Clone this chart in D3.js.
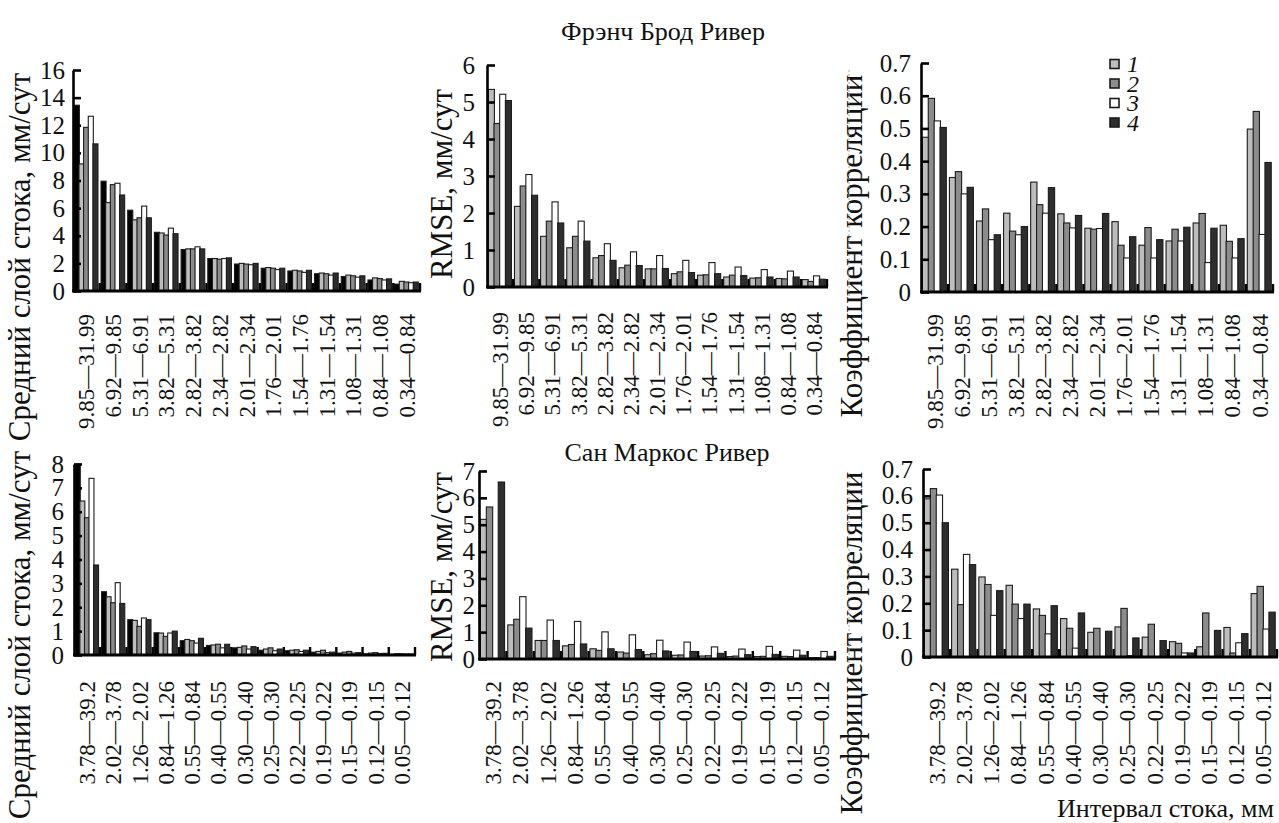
<!DOCTYPE html>
<html>
<head>
<meta charset="utf-8">
<title>Интервал стока</title>
<script src="https://d3js.org/d3.v7.min.js"></script>
<style>
  body { margin: 0; background: #fff; }
  text { font-family: "Liberation Serif", "Times New Roman", serif; fill: #111; }
</style>
</head>
<body>
<div id="chart"></div>
<script>

// flow intervals, mm
const catsFB = ["9.85—31.99", "6.92—9.85", "5.31—6.91", "3.82—5.31", "2.82—3.82", "2.34—2.82",
  "2.01—2.34", "1.76—2.01", "1.54—1.76", "1.31—1.54", "1.08—1.31", "0.84—1.08", "0.34—0.84"];
const catsSM = ["3.78—39.2", "2.02—3.78", "1.26—2.02", "0.84—1.26", "0.55—0.84", "0.40—0.55",
  "0.30—0.40", "0.25—0.30", "0.22—0.25", "0.19—0.22", "0.15—0.19", "0.12—0.15", "0.05—0.12"];

const legendNames = ["1", "2", "3", "4"];

// mean runoff: [observed, 1, 2, 3, 4]
const fbDepth = [
  [13.45, 9.2, 11.85, 12.65, 10.65], [7.95, 6.4, 7.7, 7.8, 6.95], [5.85, 5.15, 5.3, 6.15, 5.3],
  [4.25, 4.2, 4.05, 4.55, 4.15], [3.0, 3.05, 3.05, 3.2, 3.05], [2.35, 2.35, 2.3, 2.35, 2.4],
  [1.95, 2.0, 1.95, 1.9, 2.0], [1.65, 1.7, 1.65, 1.55, 1.65], [1.45, 1.5, 1.45, 1.35, 1.5],
  [1.25, 1.3, 1.25, 1.15, 1.3], [1.05, 1.15, 1.1, 1.0, 1.1], [0.8, 0.95, 0.9, 0.8, 0.88],
  [0.5, 0.7, 0.65, 0.6, 0.65]
];
const smDepth = [
  [8.0, 6.45, 5.75, 7.4, 3.77], [2.65, 2.44, 2.19, 3.03, 2.16], [1.48, 1.45, 1.2, 1.55, 1.48],
  [0.93, 0.92, 0.78, 0.92, 1.0], [0.6, 0.65, 0.6, 0.5, 0.7], [0.4, 0.42, 0.45, 0.3, 0.45],
  [0.3, 0.32, 0.38, 0.25, 0.35], [0.2, 0.25, 0.3, 0.18, 0.25], [0.18, 0.2, 0.22, 0.15, 0.2],
  [0.12, 0.15, 0.2, 0.1, 0.12], [0.08, 0.12, 0.15, 0.08, 0.1], [0.05, 0.08, 0.1, 0.06, 0.07],
  [0.03, 0.05, 0.05, 0.04, 0.04]
];

// RMSE, mm/day: [1, 2, 3, 4]
const fbRmse = [
  [5.34, 4.42, 5.21, 5.04], [2.18, 2.73, 3.04, 2.48], [1.37, 1.78, 2.3, 1.73], [1.06, 1.37, 1.78, 1.24],
  [0.79, 0.85, 1.17, 0.72], [0.52, 0.59, 0.95, 0.58], [0.49, 0.49, 0.85, 0.5], [0.36, 0.41, 0.72, 0.39],
  [0.32, 0.33, 0.66, 0.36], [0.27, 0.32, 0.54, 0.31], [0.24, 0.25, 0.47, 0.27], [0.23, 0.22, 0.43, 0.27],
  [0.2, 0.15, 0.3, 0.21]
];
const smRmse = [
  [5.2, 5.66, 0, 6.59], [1.27, 1.48, 2.32, 1.15], [0.69, 0.69, 1.45, 0.69], [0.49, 0.54, 1.4, 0.56],
  [0.38, 0.32, 1.01, 0.38], [0.26, 0.22, 0.9, 0.35], [0.16, 0.2, 0.7, 0.3], [0.14, 0.15, 0.63, 0.28],
  [0.11, 0.12, 0.45, 0.21], [0.09, 0.11, 0.37, 0.16], [0.09, 0.1, 0.47, 0.17], [0.1, 0.09, 0.33, 0.14],
  [0.05, 0.05, 0.28, 0.1]
];

// correlation coefficient: [1, 2, 3, 4]
const fbCorr = [
  [0.473, 0.592, 0.523, 0.503], [0.35, 0.368, 0.3, 0.32], [0.217, 0.254, 0.16, 0.175], [0.241, 0.186, 0.175, 0.2],
  [0.336, 0.267, 0.241, 0.319], [0.239, 0.211, 0.196, 0.234], [0.195, 0.192, 0.194, 0.24], [0.215, 0.143, 0.104, 0.169],
  [0.143, 0.197, 0.104, 0.16], [0.156, 0.192, 0.156, 0.198], [0.211, 0.24, 0.09, 0.195], [0.204, 0.155, 0.104, 0.163],
  [0.498, 0.552, 0.176, 0.396]
];
const smCorr = [
  [0.589, 0.627, 0.603, 0.5], [0.327, 0.195, 0.382, 0.344], [0.298, 0.27, 0.155, 0.247], [0.267, 0.197, 0.143, 0.197],
  [0.179, 0.155, 0.086, 0.191], [0.143, 0.107, 0.033, 0.164], [0.092, 0.107, 0, 0.096], [0.112, 0.181, 0.005, 0.071],
  [0.074, 0.122, 0, 0.061], [0.057, 0.051, 0.015, 0.015], [0.038, 0.164, 0, 0.099], [0.11, 0.015, 0.053, 0.087],
  [0.236, 0.263, 0.104, 0.167]
];

const W = 1279, H = 823;
const obsFill = "#000";
const fills = ["#bdbdbd", "#8c8c8c", "#ffffff", "#2e2e2e"];

let svg = d3.select("#chart").append("svg")
  .attr("width", W).attr("height", H);

function panel(p) {
  let g = svg.append("g");
  let n = p.data[0].length;
  let colors = n == 5 ? [obsFill].concat(fills) : fills;

  let x = d3.scaleBand().domain(d3.range(p.cats.length)).range([p.x0, p.x1]);
  let bw = x.bandwidth();
  let xs = d3.scaleBand().domain(d3.range(n)).range([bw * 0.05, bw * 0.92]);
  let y = d3.scaleLinear().domain([0, p.max]).range([p.yb, p.yt]);

  // bars
  p.data.forEach(function(row, i) {
    g.selectAll(null)
      .data(row)
      .enter()
      .append("rect")
      .attr("x", (d, j) => x(i) + xs(j))
      .attr("y", d => y(d))
      .attr("width", xs.bandwidth() + 0.4)
      .attr("height", d => p.yb - y(d))
      .attr("fill", (d, j) => colors[j])
      .attr("stroke", "#1b1b1b")
      .attr("stroke-width", 1.1)
      .style("display", d => d > 0 ? null : "none");
  });

  // y axis
  let yAxis = d3.axisLeft(y)
    .tickValues(d3.range(0, p.max + p.step / 2, p.step))
    .tickFormat(p.fmt)
    .tickSize(-8)
    .tickSizeOuter(0)
    .tickPadding(p.gap);
  let ya = g.append("g").attr("transform", "translate(" + p.x0 + ",0)").call(yAxis);
  ya.select(".domain").attr("stroke", "#000").attr("stroke-width", 2.6);
  ya.selectAll(".tick line").attr("stroke", "#000").attr("stroke-width", 2.6);
  ya.selectAll("text").attr("font-size", 25).attr("font-family", "Liberation Serif").attr("fill", "#111");

  // x axis with rotated interval labels
  let xAxis = d3.axisBottom(x).tickSize(0).tickPadding(0).tickFormat(i => p.cats[i]);
  let xa = g.append("g").attr("transform", "translate(0," + p.yb + ")").call(xAxis);
  xa.select(".domain").remove();
  xa.selectAll("text")
    .attr("transform", "rotate(-90)")
    .attr("text-anchor", "end")
    .attr("x", -p.lab)
    .attr("y", 0)
    .attr("dy", "0.35em")
    .attr("font-size", 23)
    .attr("font-family", "Liberation Serif")
    .attr("fill", "#111");

  g.append("line")
    .attr("x1", p.x0 - 1).attr("x2", p.x1 + 1)
    .attr("y1", p.yb).attr("y2", p.yb)
    .attr("stroke", "#000").attr("stroke-width", 3);
  g.selectAll(null)
    .data(d3.range(p.cats.length))
    .enter()
    .append("line")
    .attr("x1", i => x(i) + bw).attr("x2", i => x(i) + bw)
    .attr("y1", p.yb).attr("y2", p.yb - 8)
    .attr("stroke", "#000").attr("stroke-width", 2.4);

  // y title
  g.append("text")
    .attr("transform", "translate(" + p.tx + "," + p.ty + ") rotate(-90)")
    .attr("text-anchor", "middle")
    .attr("font-size", 31)
    .text(p.title);
}

const fmtInt = d3.format("d");
const fmtCorr = d => d == 0 ? "0" : d3.format(".1f")(d);

panel({data: fbDepth, cats: catsFB, x0: 73, x1: 420, yb: 291, yt: 70, max: 16, step: 2, fmt: fmtInt, gap: 8, lab: 23,
  title: "Средний слой стока, мм/сут", tx: 30, ty: 257});
panel({data: fbRmse, cats: catsFB, x0: 487, x1: 827, yb: 287, yt: 65, max: 6, step: 1, fmt: fmtInt, gap: 12, lab: 25,
  title: "RMSE, мм/сут", tx: 452, ty: 184});
panel({data: fbCorr, cats: catsFB, x0: 921, x1: 1273, yb: 292, yt: 63, max: 0.7, step: 0.1, fmt: fmtCorr, gap: 10, lab: 22,
  title: "Коэффициент корреляции", tx: 862, ty: 246});
panel({data: smDepth, cats: catsSM, x0: 74, x1: 415, yb: 655, yt: 464, max: 8, step: 1, fmt: fmtInt, gap: 10, lab: 26,
  title: "Средний слой стока, мм/сут", tx: 30, ty: 635});
panel({data: smRmse, cats: catsSM, x0: 479, x1: 835, yb: 659, yt: 471, max: 7, step: 1, fmt: fmtInt, gap: 4, lab: 22,
  title: "RMSE, мм/сут", tx: 452, ty: 567});
panel({data: smCorr, cats: catsSM, x0: 923, x1: 1277, yb: 657, yt: 469, max: 0.7, step: 0.1, fmt: fmtCorr, gap: 10, lab: 24,
  title: "Коэффициент корреляции", tx: 862, ty: 643});

// faint dashed frame remnants
[[70, 297], [473, 667]].forEach(function(r) {
  svg.append("line")
    .attr("x1", 849).attr("x2", 849).attr("y1", r[0]).attr("y2", r[1])
    .attr("stroke", "#aaa").attr("stroke-width", 1).attr("stroke-dasharray", "2,2");
});

// legend
let leg = svg.append("g").attr("transform", "translate(1110,64)");
legendNames.forEach(function(name, i) {
  leg.append("rect")
    .attr("x", 0).attr("y", i * 19.5 - 4.5)
    .attr("width", 9).attr("height", 9)
    .attr("fill", fills[i]).attr("stroke", "#1b1b1b").attr("stroke-width", 1.6);
  leg.append("text")
    .attr("x", 17).attr("y", i * 19.5 + 8)
    .attr("font-size", 24).attr("font-style", "italic")
    .text(name);
});

// titles
svg.append("text").attr("x", 663).attr("y", 40).attr("text-anchor", "middle")
  .attr("font-size", 26).text("Фрэнч Брод Ривер");
svg.append("text").attr("x", 667).attr("y", 461).attr("text-anchor", "middle")
  .attr("font-size", 26).text("Сан Маркос Ривер");
svg.append("text").attr("x", 1274).attr("y", 817).attr("text-anchor", "end")
  .attr("font-size", 26).text("Интервал стока, мм");

</script>
</body>
</html>
